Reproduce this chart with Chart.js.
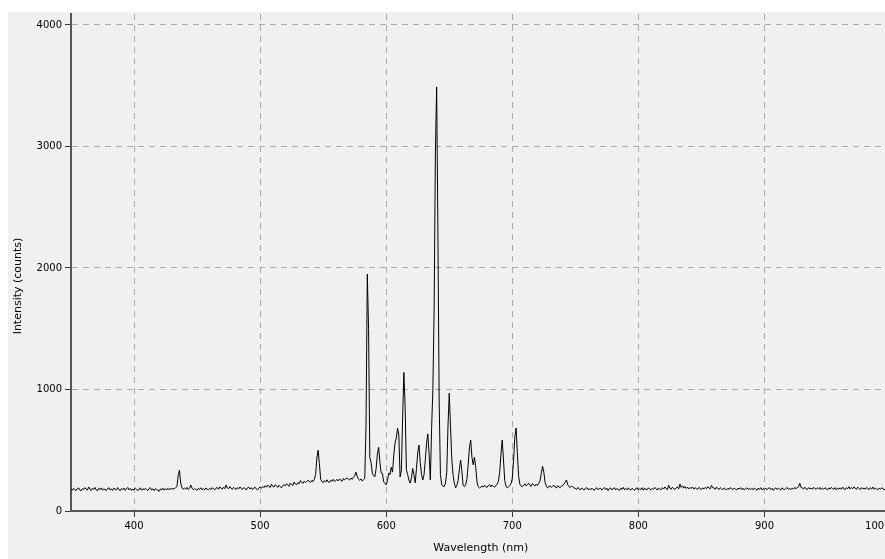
<!DOCTYPE html>
<html lang="en">
<head>
  <meta charset="UTF-8" />
  <title>Spectrum</title>
  <script src="https://cdn.jsdelivr.net/npm/chart.js"></script>
  <style>
    * { margin: 0; padding: 0; box-sizing: border-box; }
    html, body { width: 100%; height: 100%; background: #fff; overflow: hidden; }
    /* canvas is a bit wider than the window so the "1000" label gets cut off like the original */
    #wrap { position: absolute; left: 0; top: 0; width: 919px; height: 559px; }
  </style>
</head>
<body>
  <div id="wrap"><canvas id="spec" width="919" height="559"></canvas></div>

  <script>
    // Axis ticks
    const xTicks = [400, 500, 600, 700, 800, 900, 1000];
    const yTicks = [0, 1000, 2000, 3000, 4000];

    const segA = { start: 350, values: [
      178, 170, 186, 174, 168, 183, 190, 173, 167, 185,
      175, 192, 180, 172, 198, 178, 169, 188, 177, 194,
      174, 166, 187, 177, 190, 171, 183, 175, 168, 186,
      191, 173, 182, 169, 188, 180, 172, 193, 176, 167,
      185, 175, 189, 170, 182, 194, 174, 186, 168, 181,
      172, 188, 179, 166, 181, 190, 171, 184, 174, 187,
      176, 169, 186, 192, 173, 182, 167, 185, 175, 170,
      163, 182, 174, 188, 171, 183, 176, 186, 173, 189,
      178, 185, 184, 192, 200, 290, 335, 230, 192, 180,
      188, 179, 194, 176, 186, 214, 188, 174, 185, 177,
      170, 187, 178, 191, 175, 184, 173, 190, 179, 174,
      186, 177, 192, 181, 174, 188, 194, 179, 199, 186,
      180, 196, 184, 214, 190, 183, 201, 186, 179, 195,
      184, 177, 193, 182, 198, 186, 178, 194, 183, 174,
      191, 197, 181, 192, 176, 188, 196, 180, 174, 190
    ]};
    const segB = { start: 500, values: [
      198, 188, 203, 192, 208, 196, 214, 201, 194, 220,
      203, 197, 216, 205, 194, 212, 201, 190, 210, 217,
      207, 224, 212, 204, 230, 217, 210, 238, 222, 216,
      233, 224, 250, 236, 227, 246, 234, 242, 254, 241,
      236, 252, 242, 262, 300, 436, 500, 390, 262, 242,
      234, 250, 238, 257, 240, 236, 253, 244, 261, 242,
      250, 260, 247, 264, 252, 245, 268, 256, 265, 272,
      262, 256, 272, 260, 277, 290, 320, 284, 262, 253,
      264, 246, 258, 270, 710, 1950, 1500, 440, 400, 310,
      290, 282, 350, 470, 525, 400, 313, 310, 240, 228,
      214, 250, 313, 300, 360, 320, 460, 560, 600, 680,
      625, 280, 330, 760, 1140, 860, 340, 300, 255, 230,
      270, 350, 300, 232, 350, 480, 543, 400, 300, 255,
      300, 420, 560, 634, 470, 255, 680, 1000, 1663, 2946,
      3490, 2296, 900, 300, 215, 205, 200, 230, 320, 700
    ]};
    const segC = { start: 650, values: [
      970, 690, 430, 300, 230, 190, 210, 250, 340, 420,
      330, 210, 200, 215, 260, 380, 520, 584, 440, 380,
      444, 360, 240, 200, 190, 195, 207, 196, 212, 200,
      194, 210, 217, 198, 214, 203, 196, 212, 220, 245,
      320, 470, 584, 420, 250, 205, 190, 198, 210, 225,
      270, 420, 610, 683, 477, 290, 220, 205, 200, 212,
      224, 206, 218, 230, 210, 203, 226, 213, 206, 222,
      210, 228, 250, 310, 370, 320, 235, 205, 190, 200,
      207, 194, 204, 212, 196, 190, 208, 198, 192, 207,
      210, 222, 238, 255, 215, 200, 194, 207, 196, 188,
      188, 177, 194, 182, 174, 190, 179, 172, 187, 192,
      176, 185, 173, 189, 178, 170, 186, 191, 175, 184,
      188, 172, 183, 194, 176, 187, 168, 185, 190, 174,
      183, 192, 173, 186, 177, 170, 188, 179, 195, 175,
      185, 174, 191, 178, 172, 187, 177, 169, 186, 190
    ]};
    const segD = { start: 800, values: [
      173, 184, 176, 192, 171, 188, 178, 175, 191, 180,
      174, 186, 177, 194, 183, 172, 190, 179, 175, 192,
      181, 198, 184, 176, 212, 187, 179, 196, 184, 177,
      190, 200, 183, 222, 194, 207, 188, 202, 185, 197,
      182, 193, 186, 198, 181, 192, 184, 178, 195, 183,
      177, 190, 182, 194, 184, 200, 188, 183, 210, 192,
      190, 179, 197, 184, 177, 192, 182, 175, 190, 180,
      174, 187, 178, 193, 181, 176, 189, 179, 173, 188,
      180, 192, 176, 187, 172, 185, 190, 177, 187, 175,
      186, 174, 190, 179, 171, 188, 177, 192, 173, 185,
      178, 189, 174, 186, 192, 176, 187, 170, 185, 190,
      177, 188, 180, 173, 191, 179, 175, 187, 193, 178,
      186, 176, 189, 179, 194, 184, 192, 198, 228, 194,
      190, 180, 196, 183, 177, 192, 182, 190, 179, 195,
      184, 178, 191, 181, 194, 176, 188, 179, 192, 182,
      175, 190, 180, 195, 183, 178, 193, 174, 188, 181,
      191, 179, 197, 182, 176, 192, 184, 200, 181, 194,
      183, 198, 186, 179, 196, 185, 177, 192, 182, 190,
      179, 194, 184, 176, 191, 181, 197, 178, 189, 180,
      176, 188, 179, 192, 182, 175, 187
    ]};

    const points = [];
    [segA, segB, segC, segD].forEach(seg => {
      seg.values.forEach((v, i) => points.push({ x: seg.start + i, y: v }));
    });

    const FONT = "'DejaVu Sans', sans-serif";
    // last x label sits left of its tick in the original (pushed inside the panel)
    const PUSH = '\u00a0'.repeat(8);

    // grey panel behind everything, white strip on top and left
    const panelBg = {
      id: 'panelBg',
      beforeDraw(chart) {
        const c = chart.ctx;
        c.save();
        c.fillStyle = '#fff';
        c.fillRect(0, 0, chart.width, chart.height);
        c.fillStyle = '#f0f0f0';
        c.fillRect(8, 12, chart.width - 8, chart.height - 12);
        c.restore();
      }
    };

    // y title is centred on the whole panel in the original, not on the axis
    const yTitle = {
      id: 'yTitle',
      afterDraw(chart) {
        const c = chart.ctx;
        c.save();
        c.translate(18, 286);
        c.rotate(-Math.PI / 2);
        c.font = '11px ' + FONT;
        c.fillStyle = '#000';
        c.textAlign = 'center';
        c.textBaseline = 'middle';
        c.fillText('Intensity (counts)', 0, 0);
        c.restore();
      }
    };

    new Chart(document.getElementById('spec').getContext('2d'), {
      type: 'line',
      data: {
        datasets: [{
          data: points,
          borderColor: '#000',
          borderWidth: 1,
          pointRadius: 0,
          tension: 0,
          fill: false
        }]
      },
      options: {
        responsive: false,
        animation: false,
        events: [],
        layout: { padding: { top: 14, left: 0, right: 0, bottom: 0 } },
        plugins: { legend: { display: false }, tooltip: { enabled: false } },
        scales: {
          x: {
            type: 'linear',
            min: 350,
            max: 1000,
            afterBuildTicks: s => { s.ticks = xTicks.map(v => ({ value: v })); },
            afterFit: s => { s.height = 48; },
            grid: { color: '#aaa', lineWidth: 1, tickColor: '#333', tickLength: 6, tickBorderDash: [] },
            border: { color: '#555', width: 2, dash: [6, 5] },
            ticks: { color: '#000', font: { family: FONT, size: 10 }, padding: 3, maxRotation: 0,
                     callback: v => v === 1000 ? '1000' + PUSH : String(v) },
            title: { display: true, text: 'Wavelength (nm)', color: '#000',
                     font: { family: FONT, size: 11 }, padding: { top: 0, bottom: 4 } }
          },
          y: {
            min: 0,
            max: 4090,
            afterBuildTicks: s => { s.ticks = yTicks.map(v => ({ value: v })); },
            afterFit: s => { s.width = 71; },
            grid: { color: '#aaa', lineWidth: 1, tickColor: '#333', tickLength: 6, tickBorderDash: [] },
            border: { color: '#555', width: 2, dash: [6, 5] },
            ticks: { color: '#000', font: { family: FONT, size: 10 }, padding: 3,
                     callback: v => String(v) },
            title: { display: false }
          }
        }
      },
      plugins: [panelBg, yTitle]
    });
  </script>
</body>
</html>
